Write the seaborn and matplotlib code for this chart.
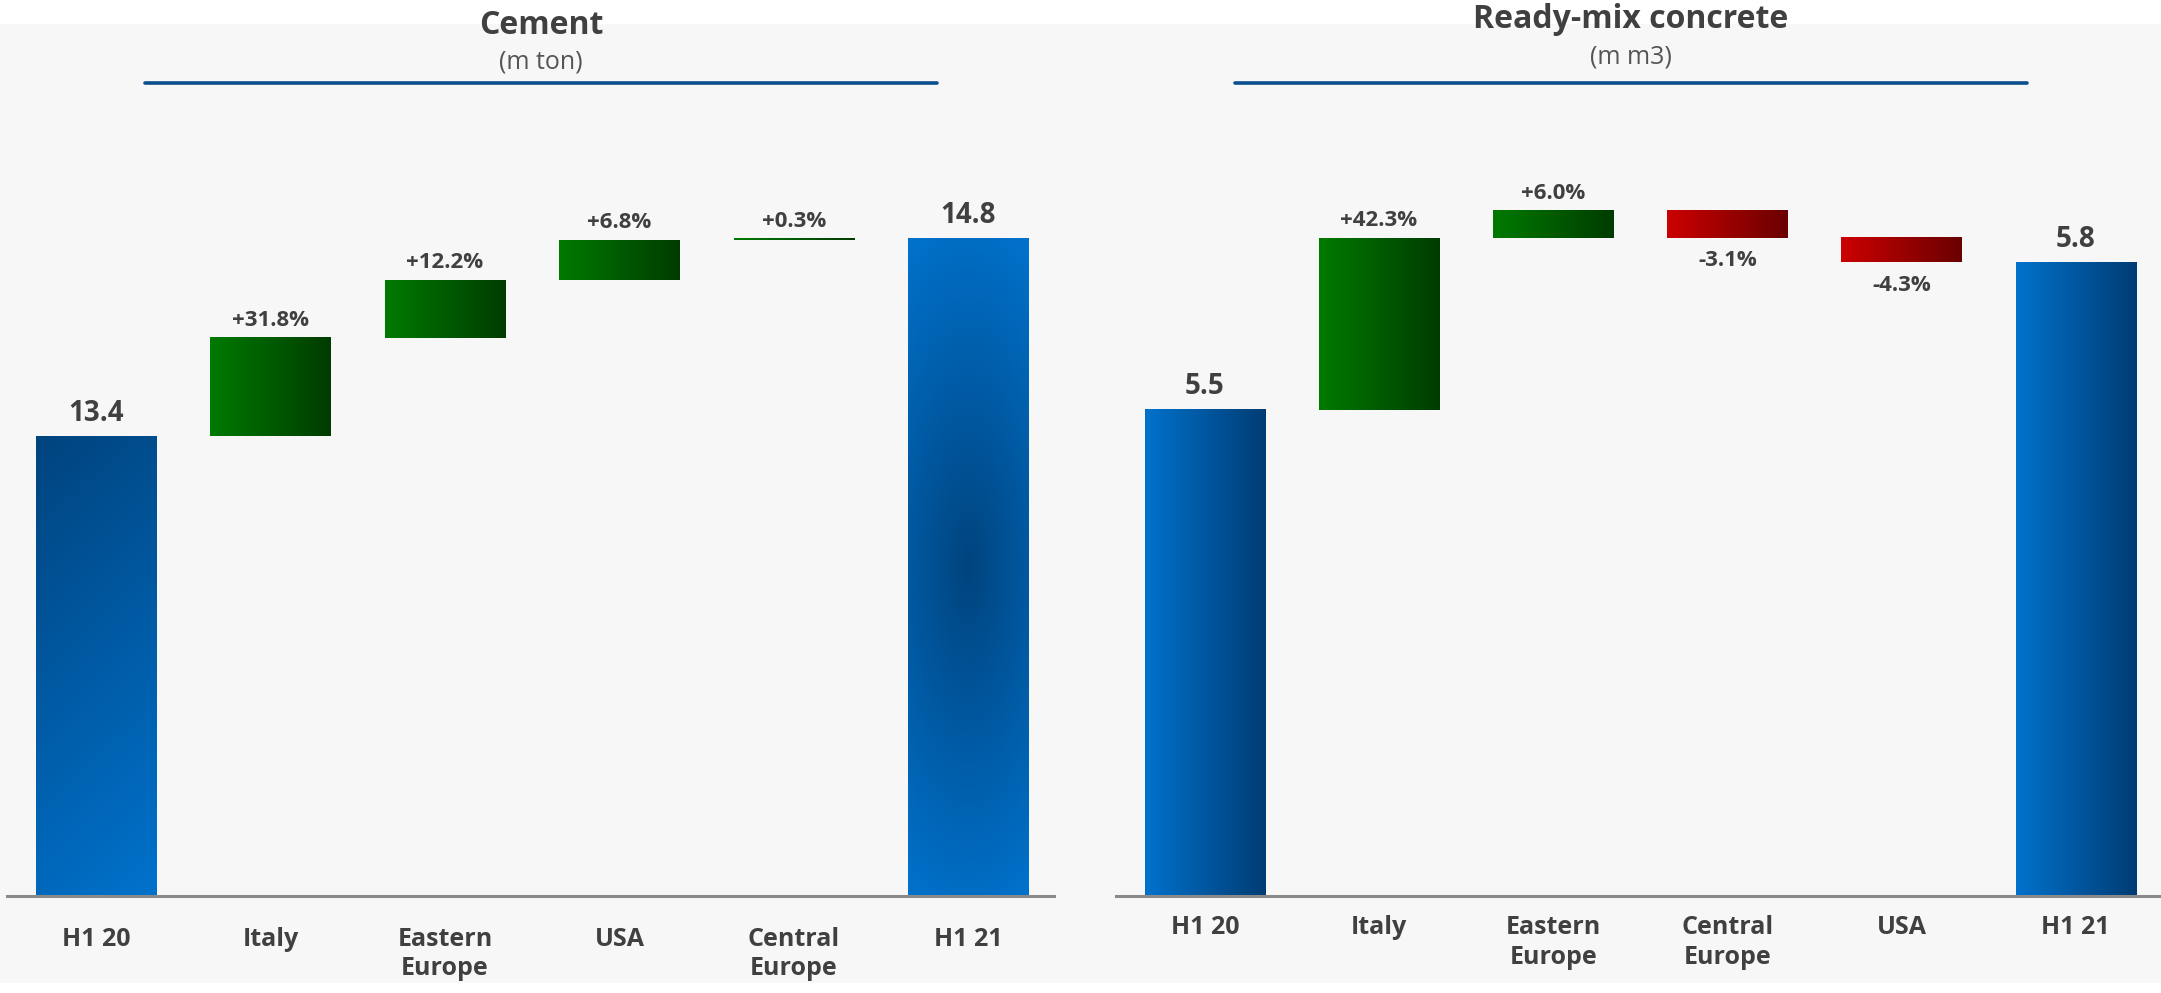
import numpy as np
import pandas as pd
import matplotlib
matplotlib.use("Agg")
import matplotlib.pyplot as plt
import seaborn as sns
from matplotlib.colors import LinearSegmentedColormap
from matplotlib.patches import Rectangle
from matplotlib.lines import Line2D

# datos de cada grafica

cement_cats = ["H1 20", "Italy", "Eastern\nEurope", "USA", "Central\nEurope", "H1 21"]
cement_start = 13.4
cement_deltas = [0.70, 0.41, 0.28, 0.01]
cement_end = 14.8
cement_pct = ["+31.8%", "+12.2%", "+6.8%", "+0.3%"]

rmc_cats = ["H1 20", "Italy", "Eastern\nEurope", "Central\nEurope", "USA", "H1 21"]
rmc_start = 5.5
rmc_deltas = [0.35, 0.055, -0.055, -0.05]
rmc_end = 5.8
rmc_pct = ["+42.3%", "+6.0%", "-3.1%", "-4.3%"]

sns.set_theme(style="white")
plt.rcParams["font.family"] = ["Open Sans", "DejaVu Sans"]

text_col = "#404040"

cm_blue_h = LinearSegmentedColormap.from_list("bh", ["#0072cc", "#003c74"])
cm_blue_v = LinearSegmentedColormap.from_list("bv", ["#0072cc", "#00447e"])
cm_green = LinearSegmentedColormap.from_list("g", ["#007a00", "#003c00"])
cm_red = LinearSegmentedColormap.from_list("r", ["#cc0000", "#6a0000"])


def tabla(cats, start, deltas, end):
    # armamos bottom / height para el waterfall
    bottoms = [0]
    heights = [start]
    kinds = ["total"]
    acc = start
    for d in deltas:
        bottoms.append(acc if d >= 0 else acc + d)
        heights.append(abs(d))
        kinds.append("up" if d >= 0 else "down")
        acc += d
    bottoms.append(0)
    heights.append(end)
    kinds.append("total")
    return pd.DataFrame({"cat": cats, "bottom": bottoms, "height": heights, "kind": kinds})


def gradiente(ax, patch, cmap, mode, ymin):
    # solo la parte visible de la barra
    x0, y0 = patch.get_x(), max(patch.get_y(), ymin)
    w = patch.get_width()
    y1 = patch.get_y() + patch.get_height()
    n = 200
    xx, yy = np.meshgrid(np.linspace(0, 1, n), np.linspace(0, 1, n))
    if mode == "h":
        z = xx
    elif mode == "diag":
        z = 0.8 * yy + 0.2 * (1 - xx)
    elif mode == "radial":
        z = 1 - np.clip(np.sqrt(((xx - 0.5) * 0.5) ** 2 + ((yy - 0.5) * 1.0) ** 2) * 1.8, 0, 1)
    else:
        z = yy
    im = ax.imshow(z, extent=[x0, x0 + w, y0, y1], origin="lower",
                   aspect="auto", cmap=cmap, vmin=0, vmax=1, zorder=2)
    im.set_clip_path(patch)
    im.set_clip_box(ax.bbox)
    patch.set_facecolor("none")
    patch.set_edgecolor("none")


def waterfall(ax, df, pct, ylim, modes, pad):
    sns.barplot(data=df, x="cat", y="height", bottom=df["bottom"], order=list(df["cat"]),
                width=0.69, errorbar=None, color="#0070c0", ax=ax)
    for i, (p, kind) in enumerate(zip(ax.patches, df["kind"])):
        if kind == "total":
            gradiente(ax, p, cm_blue_h if modes[i] == "h" else cm_blue_v, modes[i], ylim[0])
        elif kind == "up":
            gradiente(ax, p, cm_green, "h", ylim[0])
        else:
            gradiente(ax, p, cm_red, "h", ylim[0])

    # etiquetas
    for i, row in df.iterrows():
        top = row["bottom"] + row["height"]
        if row["kind"] == "total":
            ax.annotate(f"{top:.1f}", (i, top), xytext=(0, 6), textcoords="offset points",
                        ha="center", va="bottom", fontsize=20, fontweight="bold", color=text_col)
        elif row["kind"] == "up":
            ax.annotate(pct[i - 1], (i, top), xytext=(0, 5), textcoords="offset points",
                        ha="center", va="bottom", fontsize=16, fontweight="bold", color=text_col)
        else:
            ax.annotate(pct[i - 1], (i, row["bottom"]), xytext=(0, -9), textcoords="offset points",
                        ha="center", va="top", fontsize=16, fontweight="bold", color=text_col)

    ax.set_xlim(-0.51, 5.49)
    ax.set_ylim(*ylim)
    ax.set_facecolor("none")
    ax.set_xlabel("")
    ax.set_ylabel("")
    ax.set_yticks([])
    for s in ["top", "left", "right"]:
        ax.spines[s].set_visible(False)
    ax.spines["bottom"].set_color("#8a8a8a")
    ax.spines["bottom"].set_linewidth(2.2)
    ax.spines["bottom"].set_zorder(5)
    ax.tick_params(axis="x", length=0, pad=pad)
    for lab in ax.get_xticklabels():
        lab.set_fontsize(18)
        lab.set_fontweight("bold")
        lab.set_color(text_col)
        lab.set_linespacing(1.25)


fig = plt.figure(figsize=(21.61, 9.93), dpi=100)
fig.patches.append(Rectangle((0, 10 / 993), 1, 959 / 993, transform=fig.transFigure,
                             facecolor="#f7f7f7", edgecolor="none", zorder=-5))

bot = (993 - 896) / 993
hgt = (896 - 100) / 993
ax1 = fig.add_axes([7 / 2161, bot, (1054 - 7) / 2161, hgt])
ax2 = fig.add_axes([1116 / 2161, bot, (2161 - 1116) / 2161, hgt])

df1 = tabla(cement_cats, cement_start, cement_deltas, cement_end)
df2 = tabla(rmc_cats, rmc_start, rmc_deltas, rmc_end)

waterfall(ax1, df1, cement_pct, (10.15, 15.78), ["diag", "", "", "", "", "radial"], 22)
waterfall(ax2, df2, rmc_pct, (4.51, 6.13), ["h", "", "", "", "", "h"], 14)

# titulos
fig.text(541 / 2161, 1 - 25 / 993, "Cement", ha="center", va="center",
         fontsize=23, fontweight="bold", color=text_col)
fig.text(541 / 2161, 1 - 62 / 993, "(m ton)", ha="center", va="center",
         fontsize=18, color="#555555")
fig.text(1631 / 2161, 1 - 20 / 993, "Ready-mix concrete", ha="center", va="center",
         fontsize=23, fontweight="bold", color=text_col)
fig.text(1631 / 2161, 1 - 57 / 993, "(m m3)", ha="center", va="center",
         fontsize=18, color="#555555")

for x0, x1 in [(145, 937), (1235, 2027)]:
    fig.lines.append(Line2D([x0 / 2161, x1 / 2161], [1 - 83 / 993, 1 - 83 / 993],
                            transform=fig.transFigure, color="#0b4f8c", linewidth=2.6))

fig.savefig("out.png", dpi=100, facecolor="white")
